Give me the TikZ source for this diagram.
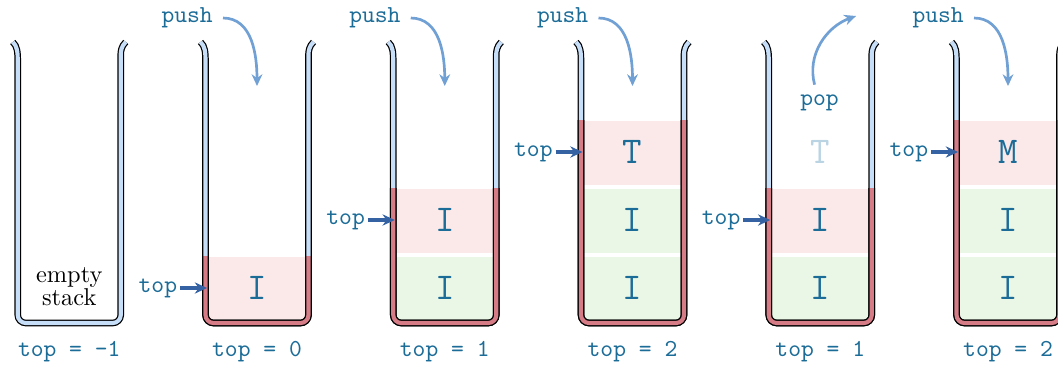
\documentclass[tikz,border=0pt]{standalone}
\usepackage{fontspec}
\usetikzlibrary{arrows.meta}

\definecolor{ink}{RGB}{28,108,152}
\definecolor{wallblue}{RGB}{198,222,248}
\definecolor{wallred}{RGB}{214,124,134}
\definecolor{cellpink}{RGB}{251,233,233}
\definecolor{cellgreen}{RGB}{234,247,230}
\definecolor{movecol}{RGB}{112,160,212}
\definecolor{ptrcol}{RGB}{52,98,162}
\definecolor{ghost}{RGB}{186,212,228}

% outline of one stack container, centred at x = #1
\newcommand\stackwall[1]{%
  \draw[wall] ({#1-56.5},42) .. controls ({#1-52},46) and ({#1-51.5},52) .. ({#1-51.5},62)
    [rounded corners=3.3pt] -- ({#1-51.5},323) -- ({#1+51.5},323) -- ({#1+51.5},62) [sharp corners]
    .. controls ({#1+51.5},52) and ({#1+52},46) .. ({#1+56.5},42);}
% red part of the wall, from height #2 down to the bottom
\newcommand\stackfill[2]{%
  \draw[filled] ({#1-51.5},#2) [rounded corners=3.3pt] -- ({#1-51.5},323) -- ({#1+51.5},323) -- ({#1+51.5},#2);}
% one slot: centre x, top y, colour
\newcommand\slot[3]{\fill[#3] ({#1-48.5},#2) rectangle ({#1+48.5},{#2+64});}
\newcommand\bottomslot[2]{\fill[#2] ({#1-48.5},257) rectangle ({#1+48.5},323);}

\begin{document}
\begin{tikzpicture}[x=0.41pt,y=-0.41pt,
  wall/.style={line width=0.5pt, draw=black, double=wallblue, double distance=1.7pt},
  filled/.style={line width=0.5pt, draw=black, double=wallred, double distance=1.7pt},
  letter/.style={text=ink, font=\fontsize{15.5}{18}\selectfont\ttfamily},
  ghostletter/.style={letter, text=ghost},
  label/.style={text=ink, font=\ttfamily},
  toplabel/.style={label, anchor=east, inner sep=1pt},
  pushlabel/.style={label, anchor=east, inner xsep=4pt, inner ysep=1pt},
  poplabel/.style={label, inner sep=4pt},
  topptr/.style={ptrcol, line width=1.3pt, -{Stealth[length=5pt,width=4.6pt]}},
  move/.style={movecol, line width=1.1pt, -{Stealth[length=4.8pt,width=4.4pt]}},
]
\useasboundingbox (0,0) rectangle (1058,367);

% ---- empty stack ----
\stackwall{69.25}
\node[align=center, font=\fontsize{10}{9.5}\selectfont] (empty) at (69.25,287) {empty\\stack};
\node[label] (v1) at (69.25,352) {top = -1};

% ---- push I ----
\bottomslot{257}{cellpink}
\stackwall{257}
\stackfill{257}{256}
\node[letter] (s2a) at (257,288) {I};
\node[toplabel] (t2) at (180,288) {top};
\coordinate (p2) at (207,288);
\draw[topptr] (t2) -- (p2);
\node[pushlabel] (u2) at (223,18) {push};
\coordinate (d2) at (257,86);
\draw[move] (u2) to[out=0,in=90] (d2);
\node[label] (v2) at (257,352) {top = 0};

% ---- push I ----
\bottomslot{444.75}{cellgreen}
\slot{444.75}{189}{cellpink}
\stackwall{444.75}
\stackfill{444.75}{188}
\node[letter] (s3a) at (444.75,288) {I};
\node[letter] (s3b) at (444.75,220) {I};
\node[toplabel] (t3) at (367.75,220) {top};
\coordinate (p3) at (394.75,220);
\draw[topptr] (t3) -- (p3);
\node[pushlabel] (u3) at (410.75,18) {push};
\coordinate (d3) at (444.75,86);
\draw[move] (u3) to[out=0,in=90] (d3);
\node[label] (v3) at (444.75,352) {top = 1};

% ---- push T ----
\bottomslot{632.5}{cellgreen}
\slot{632.5}{189}{cellgreen}
\slot{632.5}{121}{cellpink}
\stackwall{632.5}
\stackfill{632.5}{120}
\node[letter] (s4a) at (632.5,288) {I};
\node[letter] (s4b) at (632.5,220) {I};
\node[letter] (s4c) at (632.5,152) {T};
\node[toplabel] (t4) at (555.5,152) {top};
\coordinate (p4) at (582.5,152);
\draw[topptr] (t4) -- (p4);
\node[pushlabel] (u4) at (598.5,18) {push};
\coordinate (d4) at (632.5,86);
\draw[move] (u4) to[out=0,in=90] (d4);
\node[label] (v4) at (632.5,352) {top = 2};

% ---- pop ----
\bottomslot{820.25}{cellgreen}
\slot{820.25}{189}{cellpink}
\stackwall{820.25}
\stackfill{820.25}{188}
\node[letter] (s5a) at (820.25,288) {I};
\node[letter] (s5b) at (820.25,220) {I};
\node[ghostletter] (s5c) at (820.25,152) {T};
\node[toplabel] (t5) at (743.25,220) {top};
\coordinate (p5) at (770.25,220);
\draw[topptr] (t5) -- (p5);
\node[poplabel] (o5) at (819.5,103) {pop};
\coordinate (e5) at (856,16);
\draw[move] (o5) to[out=105,in=200] (e5);
\node[label] (v5) at (820.25,352) {top = 1};

% ---- push M ----
\bottomslot{1008}{cellgreen}
\slot{1008}{189}{cellgreen}
\slot{1008}{121}{cellpink}
\stackwall{1008}
\stackfill{1008}{120}
\node[letter] (s6a) at (1008,288) {I};
\node[letter] (s6b) at (1008,220) {I};
\node[letter] (s6c) at (1008,152) {M};
\node[toplabel] (t6) at (931,152) {top};
\coordinate (p6) at (958,152);
\draw[topptr] (t6) -- (p6);
\node[pushlabel] (u6) at (974,18) {push};
\coordinate (d6) at (1008,86);
\draw[move] (u6) to[out=0,in=90] (d6);
\node[label] (v6) at (1008,352) {top = 2};
\end{tikzpicture}
\end{document}
